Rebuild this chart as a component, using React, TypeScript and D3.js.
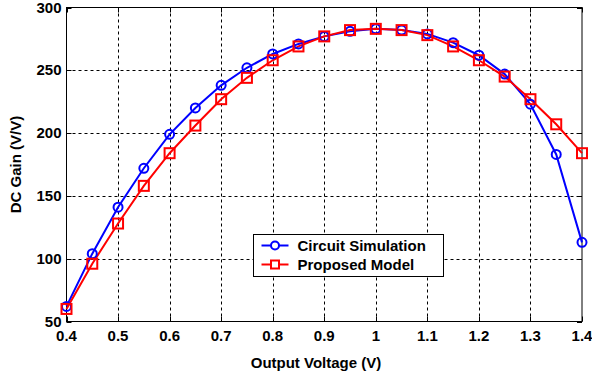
import * as d3 from "d3";

const voltages = [0.4, 0.45, 0.5, 0.55, 0.6, 0.65, 0.7, 0.75, 0.8, 0.85, 0.9, 0.95, 1.0, 1.05, 1.1, 1.15, 1.2, 1.25, 1.3, 1.35, 1.4];
const circuitSim = [62, 104, 141, 172, 199, 220, 238, 252, 263, 271, 277, 281, 283, 282, 279, 272, 262, 247, 223, 183, 113];
const proposedModel = [60, 96, 128, 158, 184, 206, 227, 244, 258, 269, 277, 282, 283, 282, 278, 269, 258, 245, 227, 207, 184];
const xTicks = [0.4, 0.5, 0.6, 0.7, 0.8, 0.9, 1.0, 1.1, 1.2, 1.3, 1.4];
const yTicks = [50, 100, 150, 200, 250, 300];

const W = 592;
const H = 380;
const margin = { left: 66.5, top: 7.5, right: 10, bottom: 58.5 };
const font = "'Liberation Sans', Arial, sans-serif";

const App = () => {
    const x = d3.scaleLinear().domain([0.4, 1.4]).range([margin.left, W - margin.right]);
    const y = d3.scaleLinear().domain([50, 300]).range([H - margin.bottom, margin.top]);

    const line = d3
        .line<number>()
        .x((_, i) => x(voltages[i]))
        .y((d) => y(d));

    const fmtX = (v: number) => (v === 1 ? "1" : d3.format(".1f")(v));

    const x0 = x.range()[0];
    const x1 = x.range()[1];
    const y0 = y.range()[0];
    const y1 = y.range()[1];

    const lg = { x: 253.5, y: 234.5, w: 190, h: 42 };

    return (
        <svg width={W} height={H} style={{ position: "absolute", left: 0, top: 0, background: "#fff" }}>
            <rect x={0} y={0} width={W} height={H} fill="#fff" />
            {/* grid */}
            <g stroke="#000" strokeWidth={1} strokeDasharray="3,3">
                {xTicks.slice(1, -1).map((t) => (
                    <line key={`gx-${t}`} x1={Math.round(x(t)) + 0.5} x2={Math.round(x(t)) + 0.5} y1={y1} y2={y0} />
                ))}
                {yTicks.slice(1, -1).map((t) => (
                    <line key={`gy-${t}`} x1={x0} x2={x1} y1={Math.round(y(t)) + 0.5} y2={Math.round(y(t)) + 0.5} />
                ))}
            </g>
            {/* inward ticks */}
            <g stroke="#000" strokeWidth={1}>
                {xTicks.map((t) => (
                    <g key={`tx-${t}`}>
                        <line x1={Math.round(x(t)) + 0.5} x2={Math.round(x(t)) + 0.5} y1={y0} y2={y0 - 5} />
                        <line x1={Math.round(x(t)) + 0.5} x2={Math.round(x(t)) + 0.5} y1={y1} y2={y1 + 5} />
                    </g>
                ))}
                {yTicks.map((t) => (
                    <g key={`ty-${t}`}>
                        <line x1={x0} x2={x0 + 5} y1={Math.round(y(t)) + 0.5} y2={Math.round(y(t)) + 0.5} />
                        <line x1={x1} x2={x1 - 5} y1={Math.round(y(t)) + 0.5} y2={Math.round(y(t)) + 0.5} />
                    </g>
                ))}
            </g>
            <rect x={x0} y={y1} width={x1 - x0} height={y0 - y1} fill="none" stroke="#000" strokeWidth={1} />

            {/* tick labels */}
            <g fontFamily={font} fontWeight="bold" fontSize={15} fill="#000">
                {xTicks.map((t) => (
                    <text key={`lx-${t}`} x={x(t)} y={y0 + 19} textAnchor="middle">
                        {fmtX(t)}
                    </text>
                ))}
                {yTicks.map((t) => (
                    <text key={`ly-${t}`} x={x0 - 5} y={y(t) + 5} textAnchor="end">
                        {t}
                    </text>
                ))}
                <text x={316} y={368} textAnchor="middle">
                    Output Voltage (V)
                </text>
                <text transform={`translate(21, ${(y0 + y1) / 2}) rotate(-90)`} textAnchor="middle">
                    DC Gain (V/V)
                </text>
            </g>

            {/* series */}
            <path d={line(circuitSim) ?? ""} fill="none" stroke="#0000ff" strokeWidth={2} />
            <path d={line(proposedModel) ?? ""} fill="none" stroke="#ff0000" strokeWidth={2} />
            {circuitSim.map((d, i) => (
                <circle key={`c-${i}`} cx={x(voltages[i])} cy={y(d)} r={4.5} fill="none" stroke="#0000ff" strokeWidth={2} />
            ))}
            {proposedModel.map((d, i) => (
                <rect
                    key={`s-${i}`}
                    x={x(voltages[i]) - 5}
                    y={y(d) - 5}
                    width={10}
                    height={10}
                    fill="none"
                    stroke="#ff0000"
                    strokeWidth={2}
                />
            ))}

            {/* legend */}
            <g>
                <rect x={lg.x} y={lg.y} width={lg.w} height={lg.h} fill="#fff" stroke="#000" strokeWidth={1} />
                <line x1={lg.x + 8} x2={lg.x + 35} y1={lg.y + 11} y2={lg.y + 11} stroke="#0000ff" strokeWidth={2} />
                <circle cx={lg.x + 21.5} cy={lg.y + 11} r={4} fill="#fff" stroke="#0000ff" strokeWidth={2} />
                <line x1={lg.x + 8} x2={lg.x + 35} y1={lg.y + 30} y2={lg.y + 30} stroke="#ff0000" strokeWidth={2} />
                <rect x={lg.x + 17.5} y={lg.y + 26} width={8} height={8} fill="#fff" stroke="#ff0000" strokeWidth={2} />
                <g fontFamily={font} fontWeight="bold" fontSize={15} fill="#000">
                    <text x={lg.x + 44} y={lg.y + 16}>
                        Circuit Simulation
                    </text>
                    <text x={lg.x + 44} y={lg.y + 35}>
                        Proposed Model
                    </text>
                </g>
            </g>
        </svg>
    );
};

export default App;
